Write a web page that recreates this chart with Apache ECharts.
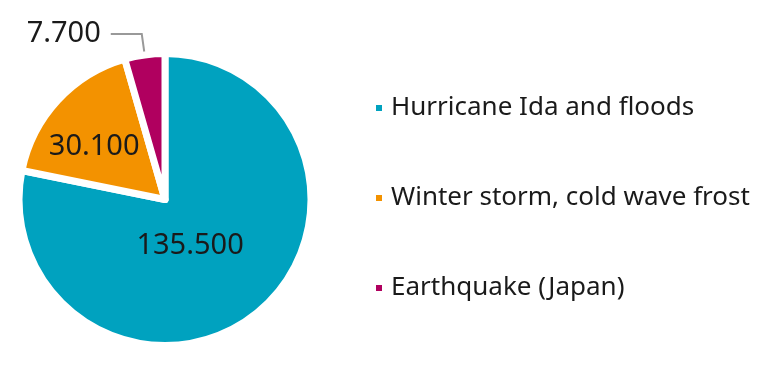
<!DOCTYPE html>
<html>
<head>
<meta charset="utf-8">
<script src="https://cdn.jsdelivr.net/npm/echarts@6/dist/echarts.min.js"></script>
<style>html,body{margin:0;padding:0;background:#fff}#c{width:763px;height:379px}</style>
</head>
<body>
<div id="c"></div>
<script>
const categories = ['Hurricane Ida and floods', 'Winter storm, cold wave frost', 'Earthquake (Japan)'];
const values = [135500, 30100, 7700];
const valueLabels = ['135.500', '30.100', '7.700'];
const colors = ['#00a2bf', '#f39200', '#b0005f'];

const font = 'Noto Sans';
const chart = echarts.init(document.getElementById('c'), null, {renderer: 'canvas'});
const labelCfg = [
  {position: 'inside', offset: [-23, -13]},
  {position: 'inside', offset: [-15, -1]},
  {position: 'outside', distanceToLabelLine: 10, padding: [0, 0, 22, 0]}
];
chart.setOption({
  animation: false,
  legend: {
    orient: 'vertical',
    left: 369,
    top: 90,
    itemGap: 64,
    icon: 'rect',
    itemWidth: 8,
    itemHeight: 8,
    textStyle: {fontFamily: font, fontSize: 26, lineHeight: 26, color: '#1a1a1a', padding: [0, 0, 0, 3]},
    data: categories
  },
  series: [{
    type: 'pie',
    center: [165, 199.5],
    radius: 146,
    startAngle: 90,
    clockwise: true,
    avoidLabelOverlap: false,
    itemStyle: {borderColor: '#fff', borderWidth: 7},
    labelLine: {length: 21, length2: 31, lineStyle: {color: '#999', width: 2}},
    data: categories.map((name, i) => ({
      name: name,
      value: values[i],
      itemStyle: {color: colors[i]},
      label: Object.assign({
        show: true,
        formatter: valueLabels[i],
        fontFamily: font,
        fontSize: 29,
        color: '#1a1a1a'
      }, labelCfg[i])
    }))
  }]
});
</script>
</body>
</html>
